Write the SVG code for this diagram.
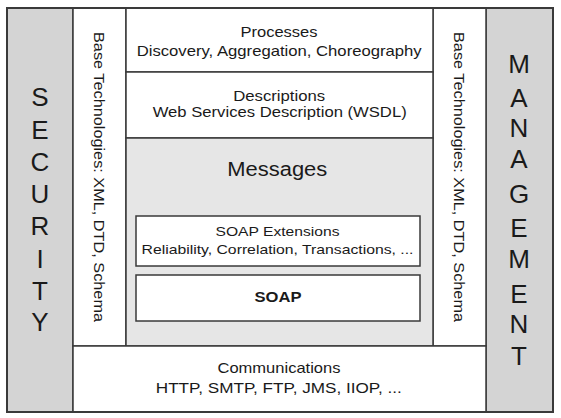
<svg xmlns="http://www.w3.org/2000/svg" width="561" height="418" viewBox="0 0 561 418">
<style>
text{font-family:"Liberation Sans",Arial,sans-serif;fill:#1a1a1a;text-anchor:middle}
.box{stroke:#3a3a3a;stroke-width:1.5}
.side{fill:#d4d4d4}
.white{fill:#ffffff}
.msg{fill:#e6e6e6}
.big{font-size:26px}
.t14{font-size:14.5px}
.vert{font-size:15.5px}
</style>
<rect x="0" y="0" width="561" height="418" fill="#ffffff"/>
<g id="security">
<rect class="box side" x="7" y="8" width="66" height="404"/>
<text class="big" x="40" y="106">S</text>
<text class="big" x="40" y="138.5">E</text>
<text class="big" x="40" y="170.5">C</text>
<text class="big" x="40" y="202.5">U</text>
<text class="big" x="40" y="235">R</text>
<text class="big" x="40" y="268">I</text>
<text class="big" x="40" y="299.5">T</text>
<text class="big" x="40" y="330.5">Y</text>
</g>
<g id="management">
<rect class="box side" x="486" y="8" width="67" height="404"/>
<text class="big" x="519" y="72.5">M</text>
<text class="big" x="519" y="106.5">A</text>
<text class="big" x="519" y="136.5">N</text>
<text class="big" x="519" y="167.5">A</text>
<text class="big" x="519" y="202.5">G</text>
<text class="big" x="519" y="236.5">E</text>
<text class="big" x="519" y="267.5">M</text>
<text class="big" x="519" y="302.5">E</text>
<text class="big" x="519" y="332.5">N</text>
<text class="big" x="519" y="364.5">T</text>
</g>
<g id="base-left">
<rect class="box white" x="73" y="8" width="53" height="338"/>
<text class="vert" transform="translate(99.5,177) rotate(90)" x="0" y="5.5" textLength="290" lengthAdjust="spacingAndGlyphs">Base Technologies: XML, DTD, Schema</text>
</g>
<g id="base-right">
<rect class="box white" x="433" y="8" width="53" height="338"/>
<text class="vert" transform="translate(459.5,177) rotate(90)" x="0" y="5.5" textLength="290" lengthAdjust="spacingAndGlyphs">Base Technologies: XML, DTD, Schema</text>
</g>
<g id="processes">
<rect class="box white" x="126" y="8" width="307" height="64"/>
<text class="t14" x="279" y="36.5" textLength="77" lengthAdjust="spacingAndGlyphs">Processes</text>
<text class="t14" x="279.2" y="56" textLength="285" lengthAdjust="spacingAndGlyphs">Discovery, Aggregation, Choreography</text>
</g>
<g id="descriptions">
<rect class="box white" x="126" y="72" width="307" height="66"/>
<text class="t14" x="279.2" y="101" textLength="92" lengthAdjust="spacingAndGlyphs">Descriptions</text>
<text class="t14" x="279.7" y="117" textLength="254" lengthAdjust="spacingAndGlyphs">Web Services Description (WSDL)</text>
</g>
<g id="messages">
<rect class="box msg" x="126" y="138" width="307" height="208"/>
<text x="277.3" y="176" style="font-size:20px" textLength="100" lengthAdjust="spacingAndGlyphs">Messages</text>
</g>
<g id="soap-extensions">
<rect class="box white" x="136" y="216" width="284" height="50"/>
<text x="277.5" y="236" style="font-size:13.5px" textLength="124" lengthAdjust="spacingAndGlyphs">SOAP Extensions</text>
<text x="277.5" y="254.3" style="font-size:13px" textLength="272" lengthAdjust="spacingAndGlyphs">Reliability, Correlation, Transactions, ...</text>
</g>
<g id="soap">
<rect class="box white" x="136" y="275" width="284" height="46"/>
<text x="278" y="302" style="font-size:14.5px;font-weight:bold" textLength="47" lengthAdjust="spacingAndGlyphs">SOAP</text>
</g>
<g id="communications">
<rect class="box white" x="73" y="346" width="413" height="66"/>
<text class="t14" x="279" y="373.3" textLength="123" lengthAdjust="spacingAndGlyphs">Communications</text>
<text class="t14" x="278.8" y="392.7" textLength="246" lengthAdjust="spacingAndGlyphs">HTTP, SMTP, FTP, JMS, IIOP, ...</text>
</g>
<g id="connectors"/>
<rect x="7" y="8" width="546" height="404" fill="none" stroke="#3a3a3a" stroke-width="2"/>
</svg>
